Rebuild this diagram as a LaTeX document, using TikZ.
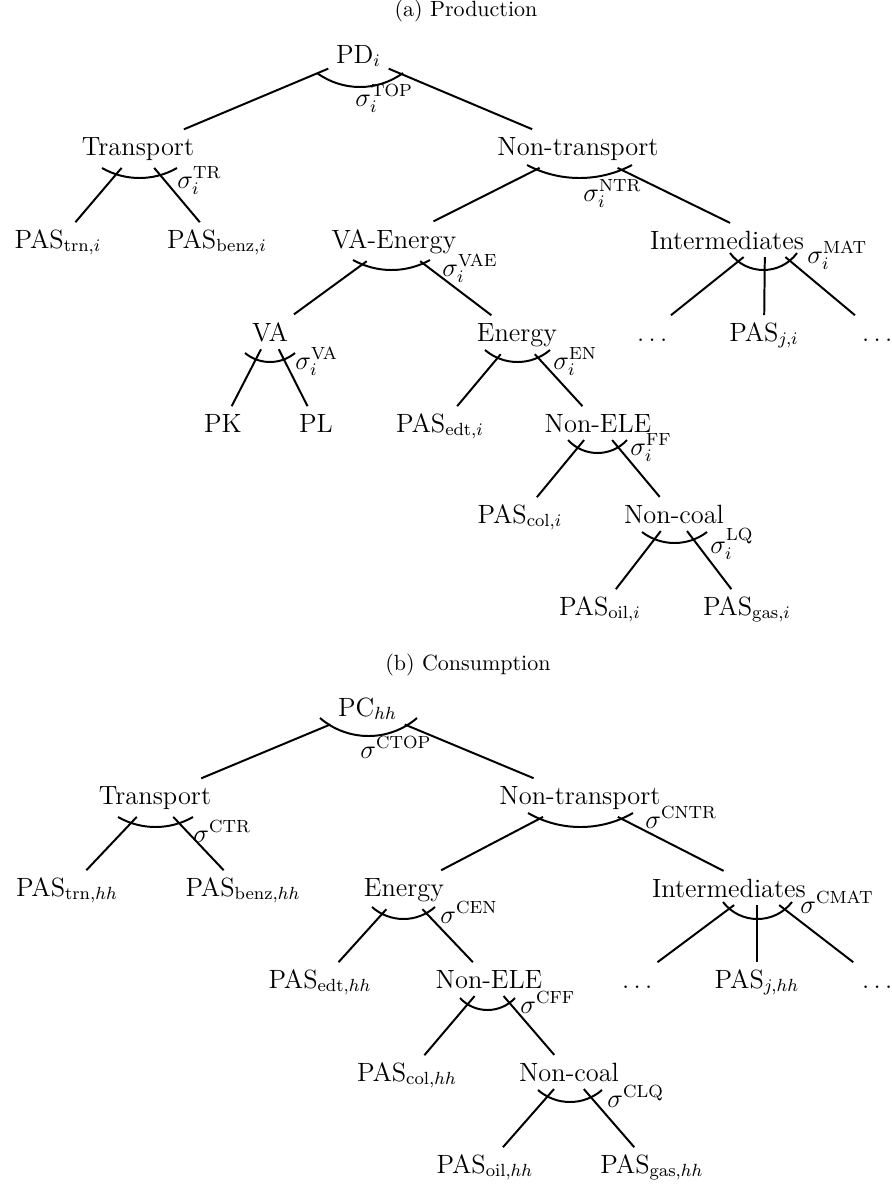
\documentclass[tikz,border=0pt]{standalone}
\usetikzlibrary{calc}
\tikzset{
  tn/.style={anchor=base, font=\large},
  sig/.style={anchor=base west, inner sep=0pt, font=\large},
  capt/.style={anchor=base, font=\normalsize},
  edge/.style={line width=0.9pt},
  cesline/.style={line width=0.9pt},
}
% circular arc from (x1,y) to (x2,y) whose lowest point is at depth yb (picture pixels, y down)
\newcommand{\cesarc}[4]{%
  \pgfmathsetmacro{\cesH}{(#2-#1)/2}%
  \pgfmathsetmacro{\cesS}{#4-#3}%
  \pgfmathsetmacro{\cesT}{2*atan(\cesS/\cesH)}%
  \pgfmathsetmacro{\cesR}{(\cesH*\cesH+\cesS*\cesS)/(2*\cesS)}%
  \pgfmathsetmacro{\cesK}{4/3*\cesS/\cesH*\cesR}%
  \draw[cesline] (#1,#3) .. controls ({#1+\cesK*cos(\cesT)},{#3+\cesK*sin(\cesT)}) and ({#2-\cesK*cos(\cesT)},{#3+\cesK*sin(\cesT)}) .. (#2,#3);}
\begin{document}
\begin{tikzpicture}[x=0.4545pt,y=-0.4545pt]
\useasboundingbox (0,0) rectangle (891,1184);
% ---------------- (a) Production ----------------
\node[capt] (cap1) at (466,16) {(a) Production};
\node[tn] (pd) at (358.5,63) {$\mathrm{PD}_i$};
\node[tn] (ptr) at (138,155) {Transport};
\node[tn] (pntr) at (578,155) {Non-transport};
\node[tn] (ptrn) at (58,248) {$\mathrm{PAS}_{\mathrm{trn},i}$};
\node[tn] (pbenz) at (217,248) {$\mathrm{PAS}_{\mathrm{benz},i}$};
\node[tn] (pvae) at (394,248) {VA-Energy};
\node[tn] (pint) at (765,249) {Intermediates\rule{34.5pt}{0pt}};
\node[tn] (pva) at (270,341) {VA};
\node[tn] (pen) at (517,341) {Energy};
\node[tn] (pdl) at (650,341) {$\vphantom{A}\dots$};
\node[tn] (pj) at (764,341) {$\mathrm{PAS}_{j,i}$};
\node[tn] (pdr) at (875,341) {$\vphantom{A}\dots$};
\node[tn] (ppk) at (223,432) {PK};
\node[tn] (ppl) at (316,432) {PL};
\node[tn] (pedt) at (440,432) {$\mathrm{PAS}_{\mathrm{edt},i}$};
\node[tn] (pnele) at (598,432) {Non-ELE};
\node[tn] (pcol) at (520,523) {$\mathrm{PAS}_{\mathrm{col},i}$};
\node[tn] (pncoal) at (674,523) {Non-coal};
\node[tn] (poil) at (600,615) {$\mathrm{PAS}_{\mathrm{oil},i}$};
\node[tn] (pgas) at (747,615) {$\mathrm{PAS}_{\mathrm{gas},i}$};

\draw[edge] (pd) -- (ptr);
\draw[edge] (pd) -- (pntr);
\draw[edge] (ptr) -- (ptrn);
\draw[edge] (ptr) -- (pbenz);
\draw[edge] (pntr) -- (pvae);
\draw[edge] (pntr) -- (pint);
\draw[edge] (pvae) -- (pva);
\draw[edge] (pvae) -- (pen);
\draw[edge] (pint) -- (pdl);
\draw[edge] (pint) -- (pj);
\draw[edge] (pint) -- (pdr);
\draw[edge] (pva) -- (ppk);
\draw[edge] (pva) -- (ppl);
\draw[edge] (pen) -- (pedt);
\draw[edge] (pen) -- (pnele);
\draw[edge] (pnele) -- (pcol);
\draw[edge] (pnele) -- (pncoal);
\draw[edge] (pncoal) -- (poil);
\draw[edge] (pncoal) -- (pgas);

\cesarc{317}{403}{73}{87}
\cesarc{102}{177}{168}{178}
\cesarc{527}{632}{165}{178}
\cesarc{353}{430}{260}{270}
\cesarc{730}{797}{253}{270}
\cesarc{245}{295}{353}{362}
\cesarc{485}{550}{350}{362}
\cesarc{568}{627}{440}{453}
\cesarc{642}{707}{532}{543}

\node[sig] (sTOP) at (355,106) {$\sigma_i^{\mathrm{TOP}}$};
\node[sig] (sTR) at (177,188) {$\sigma_i^{\mathrm{TR}}$};
\node[sig] (sNTR) at (583,201) {$\sigma_i^{\mathrm{NTR}}$};
\node[sig] (sVAE) at (442,276) {$\sigma_i^{\mathrm{VAE}}$};
\node[sig] (sVA) at (295,369) {$\sigma_i^{\mathrm{VA}}$};
\node[sig] (sEN) at (553,369) {$\sigma_i^{\mathrm{EN}}$};
\node[sig] (sMAT) at (807,263) {$\sigma_i^{\mathrm{MAT}}$};
\node[sig] (sFF) at (630,455) {$\sigma_i^{\mathrm{FF}}$};
\node[sig] (sLQ) at (710,553) {$\sigma_i^{\mathrm{LQ}}$};

% ---------------- (b) Consumption ----------------
\node[capt] (cap2) at (468,670) {(b) Consumption};
\node[tn] (pc) at (367.5,716) {$\mathrm{PC}_{hh}$};
\node[tn] (ctr) at (155,804) {Transport};
\node[tn] (cntr) at (580,804) {Non-transport};
\node[tn] (ctrn) at (67,896) {$\mathrm{PAS}_{\mathrm{trn},hh}$};
\node[tn] (cbenz) at (243,896) {$\mathrm{PAS}_{\mathrm{benz},hh}$};
\node[tn] (cen) at (404,896) {Energy};
\node[tn] (cint) at (757,897) {Intermediates\rule{25.5pt}{0pt}};
\node[tn] (cedt) at (320,988) {$\mathrm{PAS}_{\mathrm{edt},hh}$};
\node[tn] (cnele) at (489,988) {Non-ELE};
\node[tn] (cdl) at (635,988) {$\vphantom{A}\dots$};
\node[tn] (cj) at (757,988) {$\mathrm{PAS}_{j,hh}$};
\node[tn] (cdr) at (875,988) {$\vphantom{A}\dots$};
\node[tn] (ccol) at (407,1081) {$\mathrm{PAS}_{\mathrm{col},hh}$};
\node[tn] (cncoal) at (569,1081) {Non-coal};
\node[tn] (coil) at (485,1173) {$\mathrm{PAS}_{\mathrm{oil},hh}$};
\node[tn] (cgas) at (652,1173) {$\mathrm{PAS}_{\mathrm{gas},hh}$};

\draw[edge] (pc) -- (ctr);
\draw[edge] (pc) -- (cntr);
\draw[edge] (ctr) -- (ctrn);
\draw[edge] (ctr) -- (cbenz);
\draw[edge] (cntr) -- (cen);
\draw[edge] (cntr) -- (cint);
\draw[edge] (cen) -- (cedt);
\draw[edge] (cen) -- (cnele);
\draw[edge] (cint) -- (cdl);
\draw[edge] (cint) -- (cj);
\draw[edge] (cint) -- (cdr);
\draw[edge] (cnele) -- (ccol);
\draw[edge] (cnele) -- (cncoal);
\draw[edge] (cncoal) -- (coil);
\draw[edge] (cncoal) -- (cgas);

\cesarc{320}{417}{718}{736}
\cesarc{118}{193}{817}{827}
\cesarc{528}{633}{813}{827}
\cesarc{372}{435}{907}{919}
\cesarc{723}{792}{902}{919}
\cesarc{460}{515}{998}{1010}
\cesarc{538}{602}{1090}{1102}

\node[sig] (sCTOP) at (360,758) {$\sigma^{\mathrm{CTOP}}$};
\node[sig] (sCTR) at (193,842) {$\sigma^{\mathrm{CTR}}$};
\node[sig] (sCNTR) at (645,828) {$\sigma^{\mathrm{CNTR}}$};
\node[sig] (sCEN) at (440,923) {$\sigma^{\mathrm{CEN}}$};
\node[sig] (sCMAT) at (800,913) {$\sigma^{\mathrm{CMAT}}$};
\node[sig] (sCFF) at (520,1013) {$\sigma^{\mathrm{CFF}}$};
\node[sig] (sCLQ) at (607,1107) {$\sigma^{\mathrm{CLQ}}$};
\end{tikzpicture}
\end{document}
